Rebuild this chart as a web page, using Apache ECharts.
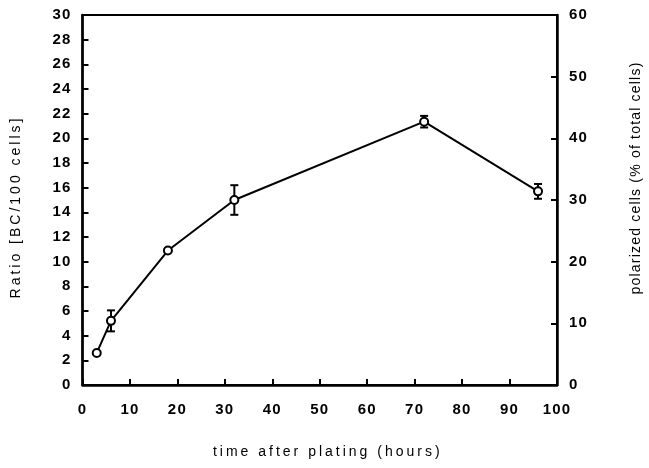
<!DOCTYPE html>
<html><head><meta charset="utf-8">
<script src="https://cdn.jsdelivr.net/npm/echarts@6/dist/echarts.min.js"></script>
<style>html,body{margin:0;padding:0;background:#fff}#c{width:649px;height:468px}</style>
</head><body><div id="c"></div>
<script>
const hours = [3, 6, 18, 32, 72, 96];
const ratio = [2.6, 5.2, 10.9, 15.0, 21.35, 15.7];
const errors = [0, 0.85, 0, 1.2, 0.47, 0.6];
const leftTicks = [0,2,4,6,8,10,12,14,16,18,20,22,24,26,28,30];
const rightTicks = [0,10,20,30,40,50,60];
const xTitle = 'time after plating (hours)';
const yTitle = 'Ratio [BC/100 cells]';
const y2Title = 'polarized cells (% of total cells)';

// letter spacing of the scanned original (text styling only)
const spacing = {};
spacing[xTitle] = '3px';
spacing[yTitle] = '3px';
spacing[y2Title] = '1.2px';
(function(){
  const proto = CanvasRenderingContext2D.prototype;
  const orig = proto.fillText;
  proto.fillText = function(t, x, y, m){
    if ('letterSpacing' in this) {
      const prev = this.letterSpacing;
      this.letterSpacing = spacing[t] || '1.2px';
      orig.call(this, t, x, y, m);
      this.letterSpacing = prev;
    } else {
      orig.call(this, t, x, y, m);
    }
  };
})();

const font = 'Liberation Sans, Arial, sans-serif';
const lineData = hours.map((h,i)=>[h, ratio[i]]);
const errData = hours.map((h,i)=>[h, ratio[i]-errors[i], ratio[i]+errors[i]]).filter((d,i)=>errors[i]>0);

const chart = echarts.init(document.getElementById('c'));
chart.setOption({
  animation:false,
  backgroundColor:'#fff',
  grid:{left:82.5, right:92, top:15, bottom:83, outerBoundsMode:'none', containLabel:false,
        show:true, borderColor:'#000', borderWidth:2, backgroundColor:'transparent'},
  xAxis:{type:'value', min:0, max:100, interval:10,
    name:xTitle, nameLocation:'middle', nameGap:60,
    nameTextStyle:{color:'#000', fontSize:14, fontFamily:font, padding:[0,0,0,16]},
    axisLine:{show:true, lineStyle:{color:'#000', width:2.5}},
    axisTick:{show:true, inside:true, length:6, lineStyle:{color:'#000', width:2}},
    axisLabel:{color:'#000', fontSize:15, fontWeight:'bold', fontFamily:font, margin:17},
    splitLine:{show:false}},
  yAxis:[
    {type:'value', min:0, max:30, interval:2, position:'left',
     name:yTitle, nameLocation:'middle', nameGap:59, nameRotate:90,
     nameTextStyle:{color:'#000', fontSize:14, fontFamily:font, padding:[0,14,0,0]},
     axisLine:{show:true, lineStyle:{color:'#000', width:2.5}},
     axisTick:{show:true, inside:true, length:6, lineStyle:{color:'#000', width:2}},
     axisLabel:{color:'#000', fontSize:15, fontWeight:'bold', fontFamily:font, margin:11,
       formatter:v=>leftTicks.includes(v)?String(v):''},
     splitLine:{show:false}},
    {type:'value', min:0, max:60, interval:10, position:'right',
     name:y2Title, nameLocation:'middle', nameGap:72, nameRotate:90,
     nameTextStyle:{color:'#000', fontSize:14, fontFamily:font, padding:[0,0,0,44]},
     axisLine:{show:true, lineStyle:{color:'#000', width:2.5}},
     axisTick:{show:true, inside:true, length:6, lineStyle:{color:'#000', width:2}},
     axisLabel:{color:'#000', fontSize:15, fontWeight:'bold', fontFamily:font, margin:12,
       formatter:v=>rightTicks.includes(v)?String(v):''},
     splitLine:{show:false}}
  ],
  series:[
    {type:'custom', yAxisIndex:0, data:errData, z:3,
     renderItem:function(params, api){
       const x = api.value(0);
       const lo = api.coord([x, api.value(1)]);
       const hi = api.coord([x, api.value(2)]);
       const w = 4;
       const st = {stroke:'#000', lineWidth:2};
       return {type:'group', children:[
         {type:'line', shape:{x1:lo[0], y1:lo[1], x2:hi[0], y2:hi[1]}, style:st},
         {type:'line', shape:{x1:lo[0]-w, y1:lo[1], x2:lo[0]+w, y2:lo[1]}, style:st},
         {type:'line', shape:{x1:hi[0]-w, y1:hi[1], x2:hi[0]+w, y2:hi[1]}, style:st}
       ]};
     }},
    {type:'line', yAxisIndex:0, data:lineData, z:4,
     lineStyle:{color:'#000', width:2},
     symbol:'circle', symbolSize:8,
     itemStyle:{color:'#fff', borderColor:'#000', borderWidth:2}}
  ]
});
</script></body></html>
